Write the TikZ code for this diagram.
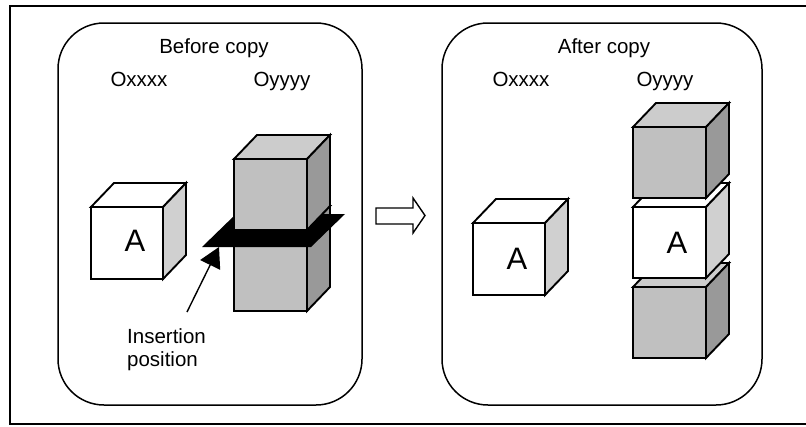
\documentclass[tikz,border=0pt]{standalone}
\usepackage{fontspec}
\setmainfont{Liberation Sans}
\usetikzlibrary{arrows.meta}
\definecolor{blockfront}{HTML}{C0C0C0}
\definecolor{blocktop}{HTML}{CCCCCC}
\definecolor{blockside}{HTML}{999999}
\definecolor{paleside}{HTML}{D0D0D0}
\tikzset{frame/.style = {draw, line width=2.2pt}}
\tikzset{panel/.style = {draw, line width=1.5pt, rounded corners=46pt, inner sep=0}}
\tikzset{edge/.style = {draw, line width=1.9pt}}
\tikzset{lbl/.style = {font=\fontsize{20.5}{23}\selectfont, inner sep=0}}
\tikzset{letter/.style = {font=\fontsize{31}{31}\selectfont, inner sep=0}}
\tikzset{pointer/.style = {line width=1.4pt, -{Triangle[length=20pt, width=22pt]}}}
\tikzset{blockarrow/.style = {draw, fill=white, line width=1.4pt}}

% cube: left, top of front face, width, height, front / top / side fill
\newcommand{\cubeblock}[7]{%
  \filldraw[edge, fill=#5] (#1,#2) rectangle ++(#3,#4);
  \filldraw[edge, fill=#6] (#1,#2) -- ++(23,-24) -- ++(#3,0) -- ++(-23,24) -- cycle;
  \filldraw[edge, fill=#7] (#1+#3,#2) -- ++(23,-24) -- ++(0,#4) -- ++(-23,24) -- cycle;
}

\begin{document}
\begin{tikzpicture}[x=1pt, y=-1pt]
  \useasboundingbox (0,0) rectangle (806,426);
  \fill[white] (0,0) rectangle (806,426);
  \draw[frame] (10,6) rectangle (808,424);

  % the two states
  \node[panel, minimum width=304pt, minimum height=382pt] (before) at (210,214) {};
  \node[panel, minimum width=320pt, minimum height=382pt] (after) at (602,214) {};

  \node[lbl, anchor=base] (beforetitle) at (214,53) {Before copy};
  \node[lbl, anchor=base] (srcL) at (139,86) {Oxxxx};
  \node[lbl, anchor=base] (dstL) at (282,86) {Oyyyy};
  \node[lbl, anchor=base] (aftertitle) at (604,53) {After copy};
  \node[lbl, anchor=base] (srcR) at (521,86) {Oxxxx};
  \node[lbl, anchor=base] (dstR) at (665,86) {Oyyyy};

  % before: object A and the column cut by the insertion plane
  \cubeblock{91}{207}{72}{72}{white}{white}{paleside}
  \node[letter] (aL) at (135,241) {A};

  \cubeblock{234}{230}{73}{81}{blockfront}{blocktop}{blockside}
  \fill (202,247) -- (311,247) -- (345,214) -- (236,214) -- cycle;
  \cubeblock{234}{159}{73}{71}{blockfront}{blocktop}{blockside}

  \node[lbl, anchor=north west, align=left] (ins) at (127,328) {Insertion\\position};
  \coordinate (instail) at (187,312);
  \coordinate (instip) at (219,247);
  \draw[pointer] (instail) -- (instip);

  % before -> after
  \draw[blockarrow] (376,208) -- (413,208) -- (413,198) -- (425,215.5)
    -- (413,233) -- (413,224) -- (376,224) -- cycle;

  % after: A stays, a copy sits inside the column
  \cubeblock{473}{223}{72}{72}{white}{white}{paleside}
  \node[letter] (aR) at (517,259) {A};

  \cubeblock{633}{287}{73}{71}{blockfront}{blocktop}{blockside}
  \cubeblock{633}{207}{73}{71}{white}{white}{paleside}
  \node[letter] (aM) at (677,243) {A};
  \cubeblock{633}{127}{73}{71}{blockfront}{blocktop}{blockside}
\end{tikzpicture}
\end{document}
